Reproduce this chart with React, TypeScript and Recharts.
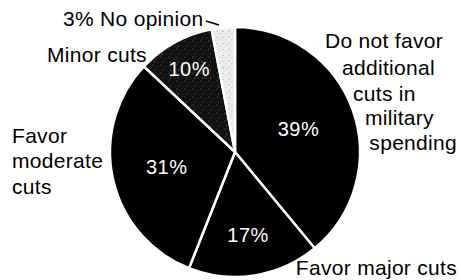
import React from "react";
import { PieChart, Pie, Cell } from "recharts";

const categories = [
  "Do not favor additional cuts in military spending",
  "Favor major cuts",
  "Favor moderate cuts",
  "Minor cuts",
  "No opinion",
];
const values = [39, 17, 31, 10, 3];
const percentLabels = ["39%", "17%", "31%", "10%", ""];
const outerLabelLines = [
  ["Do not favor", "additional", "cuts in", "military", "spending"],
  ["Favor major cuts"],
  ["Favor", "moderate", "cuts"],
  ["Minor cuts"],
  ["3% No opinion"],
];

const fills = ["#000", "#000", "#000", "url(#darkSpeckle)", "url(#lightSpeckle)"];
// radius fraction for inner percent labels
const pctRadius = [0.54, 0.67, 0.56, 0.76, 0];
// outer label line offsets relative to pie center (dx, dy baseline, anchor)
type Pos = [number, number, "start" | "end"];
const outerLayout: Array<Array<Pos>> = [
  [[90, -104, "start"], [107, -77, "start"], [118, -51, "start"], [130, -27, "start"], [222, -2, "end"]],
  [[222, 123, "end"]],
  [[-223, -9, "start"], [-223, 16, "start"], [-223, 42, "start"]],
  [[-188, -90, "start"]],
  [[-172, -126, "start"]],
];

const data = categories.map((name, i) => ({ name, value: values[i] }));
const RADIAN = Math.PI / 180;
const FONT = "'Liberation Sans', Arial, Helvetica, sans-serif";

const renderLabel = (props: any) => {
  const { cx, cy, midAngle, outerRadius, index } = props;
  const r = outerRadius * pctRadius[index];
  const px = cx + r * Math.cos(-midAngle * RADIAN);
  const py = cy + r * Math.sin(-midAngle * RADIAN);
  return (
    <g key={`lab-${index}`}>
      {percentLabels[index] && (
        <text
          x={px}
          y={py}
          fill="#fff"
          fontSize={20}
          fontFamily={FONT}
          letterSpacing={0.5}
          textAnchor="middle"
          dominantBaseline="central"
        >
          {percentLabels[index]}
        </text>
      )}
      {outerLabelLines[index].map((line, j) => (
        <text
          key={j}
          x={cx + outerLayout[index][j][0]}
          y={cy + outerLayout[index][j][1]}
          fill="#000"
          fontSize={21}
          letterSpacing={0.3}
          fontFamily={FONT}
          textAnchor={outerLayout[index][j][2]}
        >
          {line}
        </text>
      ))}
      {index === 4 && (
        <line
          x1={cx - 29}
          y1={cy - 131}
          x2={cx - 16}
          y2={cy - 127}
          stroke="#000"
          strokeWidth={1.5}
        />
      )}
    </g>
  );
};

export default function App() {
  return (
    <div style={{ position: "absolute", left: 0, top: 0, background: "#fff" }}>
      <PieChart width={461} height={280} margin={{ top: 0, right: 0, bottom: 0, left: 0 }}>
        <defs>
          <pattern id="darkSpeckle" width="8" height="8" patternUnits="userSpaceOnUse">
            <rect width="8" height="8" fill="#111" />
            <circle cx="1" cy="1" r="0.5" fill="#777" />
            <circle cx="5" cy="3" r="0.4" fill="#555" />
            <circle cx="2.5" cy="6" r="0.5" fill="#888" />
            <circle cx="6.5" cy="6.5" r="0.35" fill="#666" />
          </pattern>
          <pattern id="lightSpeckle" width="6" height="6" patternUnits="userSpaceOnUse">
            <rect width="6" height="6" fill="#ececec" />
            <circle cx="1" cy="1.5" r="0.6" fill="#999" />
            <circle cx="4" cy="3.5" r="0.5" fill="#aaa" />
            <circle cx="2" cy="5" r="0.4" fill="#bbb" />
          </pattern>
        </defs>
        <Pie
          data={data}
          dataKey="value"
          nameKey="name"
          cx={235}
          cy={152}
          outerRadius={125}
          startAngle={90}
          endAngle={-270}
          stroke="#fff"
          strokeWidth={2.5}
          label={renderLabel}
          labelLine={false}
          isAnimationActive={false}
        >
          {data.map((d, i) => (
            <Cell key={d.name} fill={fills[i]} />
          ))}
        </Pie>
      </PieChart>
    </div>
  );
}
